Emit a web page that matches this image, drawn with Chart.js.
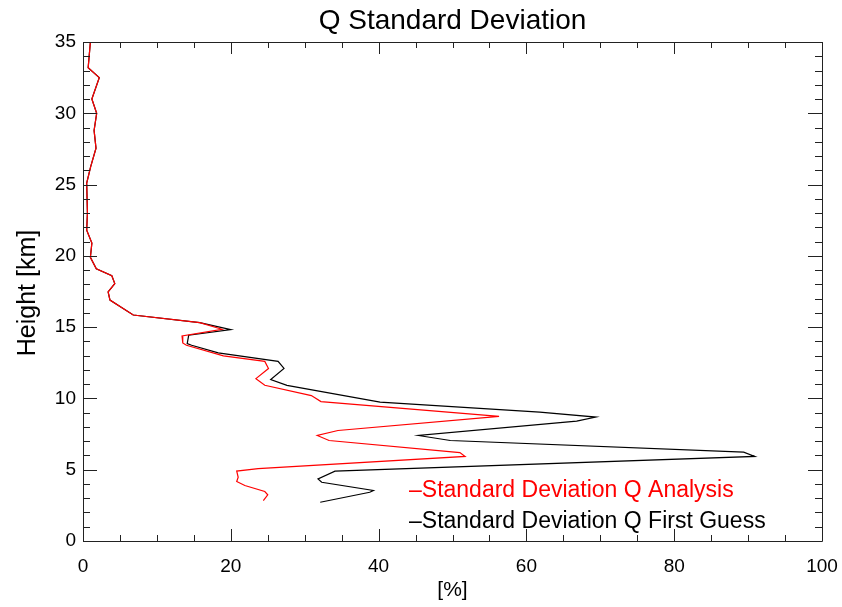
<!DOCTYPE html>
<html>
<head>
<meta charset="utf-8">
<title>Q Standard Deviation</title>
<script src="https://cdn.jsdelivr.net/npm/chart.js@4/dist/chart.umd.min.js"></script>
<style>
  html, body { margin: 0; padding: 0; background: #ffffff; }
  #chart { display: block; }
</style>
</head>
<body>
<canvas id="chart" width="842" height="607"></canvas>
<script>
// Analysis profile: height [km] and standard deviation [%]
const analysisHeight = [35.0, 33.2, 32.5, 31.0, 30.0, 28.8, 27.55, 26.26, 25.1, 23.0, 21.8, 20.9, 19.9, 19.1,
  18.6, 18.05, 17.47, 16.9, 15.85, 15.32, 14.85, 14.38, 13.89, 13.73, 12.98, 12.6, 12.1, 11.39, 10.92,
  10.2, 9.78, 8.74, 7.75, 7.4, 7.05, 6.2, 5.93, 5.08, 4.9, 4.47, 4.17, 3.89, 3.47, 3.24, 2.84];
const analysisPct = [1.0, 0.7, 2.2, 1.2, 1.85, 1.5, 1.76, 1.04, 0.5, 0.6, 0.5, 1.2, 1.0, 1.8,
  3.9, 4.3, 3.4, 3.65, 6.8, 15.8, 18.8, 13.4, 13.5, 14.0, 19.0, 24.6, 25.1, 23.4, 24.6,
  30.9, 32.2, 56.3, 34.5, 31.7, 33.3, 51.0, 51.7, 23.7, 20.8, 21.0, 20.8, 21.9, 24.6, 25.0, 24.4];

// First guess profile: height [km] and standard deviation [%]
const guessHeight = [35.0, 33.2, 32.5, 31.0, 30.0, 28.8, 27.55, 26.26, 25.1, 23.0, 21.8, 20.9, 19.9, 19.1,
  18.6, 18.05, 17.47, 16.9, 15.85, 15.32, 14.83, 14.43, 13.85, 13.73, 13.2, 12.6, 12.1, 11.32, 10.92,
  9.74, 9.04, 8.69, 8.41, 7.4, 7.05, 6.23, 5.93, 4.9, 4.36, 4.12, 3.54, 3.42, 2.72];
const guessPct = [1.0, 0.7, 2.2, 1.2, 1.85, 1.5, 1.76, 1.04, 0.5, 0.6, 0.5, 1.2, 1.0, 1.8,
  3.9, 4.3, 3.4, 3.65, 6.8, 15.8, 20.0, 14.3, 14.1, 14.7, 18.3, 26.4, 27.2, 25.4, 27.6,
  40.2, 61.8, 69.4, 66.8, 45.4, 49.7, 89.4, 90.9, 34.1, 31.8, 32.3, 39.3, 38.8, 32.1];

// Axis ranges and labelled ticks
const xTicks = [0, 20, 40, 60, 80, 100];
const yTicks = [0, 5, 10, 15, 20, 25, 30, 35];
const xMinorStep = 5;
const yMinorStep = 1;

const titleText = 'Q Standard Deviation';
const xTitle = '[%]';
const yTitle = 'Height [km]';
const legendItems = [
  { text: '\u2013Standard Deviation Q Analysis', color: '#ff0000' },
  { text: '\u2013Standard Deviation Q First Guess', color: '#000000' }
];

const FONT = "'Liberation Sans', 'DejaVu Sans', sans-serif";

function toPoints(xs, ys) {
  return xs.map((v, i) => ({ x: v, y: ys[i] }));
}

// Frame, inward tick marks and the text annotations
const framePlugin = {
  id: 'frame',
  afterDatasetsDraw(chart) {
    const { ctx, chartArea: a, scales: { x, y } } = chart;
    ctx.save();
    ctx.strokeStyle = '#222222';
    ctx.lineWidth = 1;
    ctx.beginPath();
    ctx.rect(Math.round(a.left) + 0.5, Math.round(a.top) + 0.5,
      Math.round(a.right - a.left), Math.round(a.bottom - a.top));
    ctx.stroke();

    ctx.beginPath();
    for (let v = x.min; v <= x.max + 1e-9; v += xMinorStep) {
      const px = Math.round(x.getPixelForValue(v)) + 0.5;
      const len = xTicks.includes(v) ? 12 : 6;
      ctx.moveTo(px, a.bottom); ctx.lineTo(px, a.bottom - len);
      ctx.moveTo(px, a.top); ctx.lineTo(px, a.top + len);
    }
    for (let v = y.min; v <= y.max + 1e-9; v += yMinorStep) {
      const py = Math.round(y.getPixelForValue(v)) + 0.5;
      const len = yTicks.includes(v) ? 14 : 7;
      ctx.moveTo(a.left, py); ctx.lineTo(a.left + len, py);
      ctx.moveTo(a.right, py); ctx.lineTo(a.right - len, py);
    }
    ctx.stroke();

    // title
    const cx = (a.left + a.right) / 2;
    ctx.fillStyle = '#000000';
    ctx.textAlign = 'center';
    ctx.textBaseline = 'middle';
    ctx.font = '28px ' + FONT;
    ctx.fillText(titleText, cx, 21);

    // x axis title
    ctx.font = '21px ' + FONT;
    ctx.fillText(xTitle, cx, 590);

    // y axis title
    ctx.save();
    ctx.translate(28, 293);
    ctx.rotate(-Math.PI / 2);
    ctx.font = '25px ' + FONT;
    ctx.fillText(yTitle, 0, 0);
    ctx.restore();

    // legend
    ctx.textAlign = 'left';
    ctx.font = '23px ' + FONT;
    legendItems.forEach((item, i) => {
      ctx.fillStyle = item.color;
      ctx.fillText(item.text, 409, 491 + i * 31);
    });
    ctx.restore();
  }
};

new Chart(document.getElementById('chart'), {
  type: 'scatter',
  data: {
    datasets: [
      {
        label: 'Standard Deviation Q Analysis',
        data: toPoints(analysisPct, analysisHeight),
        showLine: true,
        borderColor: '#ff0000',
        backgroundColor: '#ff0000',
        borderWidth: 1.2,
        pointRadius: 0,
        tension: 0,
        order: 0
      },
      {
        label: 'Standard Deviation Q First Guess',
        data: toPoints(guessPct, guessHeight),
        showLine: true,
        borderColor: '#000000',
        backgroundColor: '#000000',
        borderWidth: 1.2,
        pointRadius: 0,
        tension: 0,
        order: 1
      }
    ]
  },
  options: {
    responsive: false,
    animation: false,
    devicePixelRatio: 1,
    layout: { padding: { left: 0, right: 20, top: 42, bottom: 0 } },
    plugins: {
      legend: { display: false },
      tooltip: { enabled: false },
      title: { display: false }
    },
    scales: {
      x: {
        type: 'linear',
        min: 0,
        max: 100,
        afterBuildTicks(scale) { scale.ticks = xTicks.map(v => ({ value: v })); },
        afterFit(scale) { scale.height = 66; scale.paddingLeft = 0; scale.paddingRight = 0; },
        ticks: { color: '#000000', padding: 14, maxRotation: 0, font: { family: FONT, size: 19 } },
        grid: { display: false, drawTicks: false },
        border: { display: false }
      },
      y: {
        type: 'linear',
        min: 0,
        max: 35,
        afterBuildTicks(scale) { scale.ticks = yTicks.map(v => ({ value: v })); },
        afterFit(scale) { scale.width = 83; scale.paddingTop = 0; scale.paddingBottom = 0; },
        ticks: { color: '#000000', padding: 7, font: { family: FONT, size: 19 } },
        grid: { display: false, drawTicks: false },
        border: { display: false }
      }
    }
  },
  plugins: [framePlugin]
});
</script>
</body>
</html>
